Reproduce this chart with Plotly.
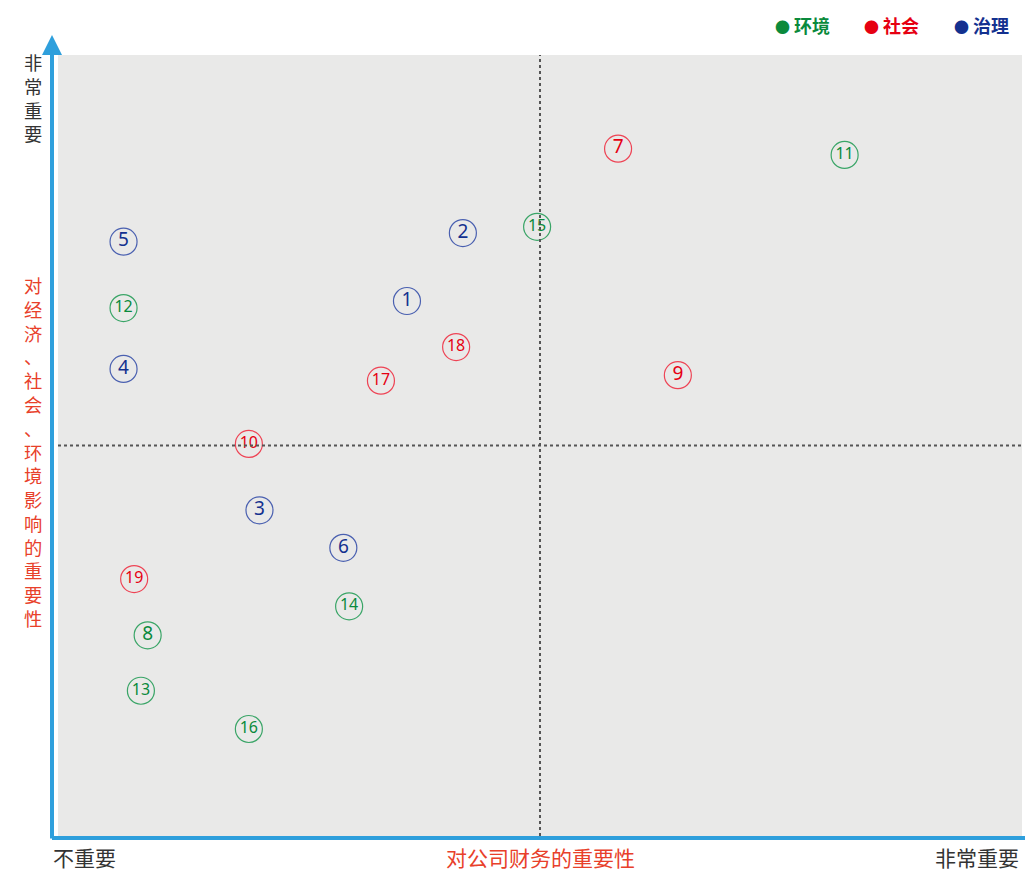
import plotly.graph_objects as go

# Data (0-10 scale, midpoint 5)
ids = list(range(1, 20))
x_fin = [3.62, 4.20, 2.09, 0.68, 0.68, 2.96, 5.81, 0.93, 6.43, 1.98,
         8.16, 0.68, 0.86, 3.02, 4.97, 1.98, 3.35, 4.13, 0.79]
y_imp = [6.85, 7.72, 4.17, 5.98, 7.61, 3.69, 8.80, 2.57, 5.90, 5.02,
         8.72, 6.76, 1.86, 2.94, 7.80, 1.37, 5.83, 6.26, 3.29]
cat = ["治理", "治理", "治理", "治理", "治理", "治理", "社会", "环境", "社会", "社会",
       "环境", "环境", "环境", "环境", "环境", "环境", "社会", "社会", "社会"]
categories = ["环境", "社会", "治理"]
y_top_label = "非常重要"
y_title = "对经济、社会、环境影响的重要性"
x_left_label = "不重要"
x_title = "对公司财务的重要性"
x_right_label = "非常重要"

cat_color = {"环境": "#0a8a3c", "社会": "#e60012", "治理": "#13318f"}
ring_color = {"环境": "#3aa567", "社会": "#ee4455", "治理": "#4a60b0"}

FONT = "Noto Sans CJK SC"
L, T, W, H = 58, 55, 964, 781  # plot area in pixels


def px_x(p):
    return (p - L) / W


def px_y(p):
    return (T + H - p) / H


fig = go.Figure()
for c in categories:
    xs = [x for x, k in zip(x_fin, cat) if k == c]
    ys = [y for y, k in zip(y_imp, cat) if k == c]
    ts = [str(i) for i, k in zip(ids, cat) if k == c]
    sizes = [19 if len(t) == 1 else 16 for t in ts]
    fig.add_trace(go.Scatter(
        x=xs, y=ys, mode="markers+text", text=ts,
        textposition="middle center",
        textfont=dict(family="Liberation Sans Narrow, Noto Sans", size=sizes,
                      color=cat_color[c]),
        marker=dict(symbol="circle-open", size=27,
                    line=dict(width=1.2, color=ring_color[c]),
                    color=ring_color[c]),
        hoverinfo="skip", showlegend=False, cliponaxis=False))

shapes = [
    dict(type="line", xref="x", yref="paper", x0=5, x1=5, y0=0, y1=1,
         line=dict(color="#555555", width=2, dash="dot")),
    dict(type="line", xref="paper", yref="y", x0=0, x1=1, y0=5, y1=5,
         line=dict(color="#555555", width=2, dash="dot")),
    # horizontal axis line
    dict(type="line", xref="paper", yref="paper", x0=px_x(52), x1=1.004,
         y0=px_y(838), y1=px_y(838), line=dict(color="#2e9fdc", width=4)),
]

VS = 18.3  # vertical text size (line pitch = 1.3 * size)
annotations = [
    # vertical axis with arrow
    dict(xref="paper", yref="paper", x=px_x(52), y=px_y(35), ax=0, ay=805,
         axref="pixel", ayref="pixel", text="", showarrow=True,
         arrowhead=2, arrowsize=1.0, arrowwidth=4, arrowcolor="#2e9fdc"),
    dict(xref="paper", yref="paper", x=px_x(33), y=px_y(47),
         xanchor="center", yanchor="top", text="<br>".join(y_top_label),
         showarrow=False,
         font=dict(family=FONT, size=VS, color="#333333")),
    dict(xref="paper", yref="paper", x=px_x(33), y=px_y(270),
         xanchor="center", yanchor="top", text="<br>".join(y_title),
         showarrow=False,
         font=dict(family=FONT, size=VS, color="#e8402a")),
    dict(xref="paper", yref="paper", x=px_x(51), y=px_y(857), xanchor="left",
         yanchor="middle", text=x_left_label, showarrow=False,
         font=dict(family=FONT, size=21, color="#333333")),
    dict(xref="x", yref="paper", x=5, y=px_y(857), xanchor="center",
         yanchor="middle", text=x_title, showarrow=False,
         font=dict(family=FONT, size=21, color="#e8402a")),
    dict(xref="paper", yref="paper", x=px_x(1021), y=px_y(857),
         xanchor="right", yanchor="middle", text=x_right_label,
         showarrow=False,
         font=dict(family=FONT, size=21, color="#333333")),
]

# legend as annotations
leg_x = [773, 862, 952]
for c, px in zip(categories, leg_x):
    annotations.append(dict(
        xref="paper", yref="paper", x=px_x(px), y=px_y(25),
        xanchor="left", yanchor="middle",
        text=f"<span style='font-size:15px'>●</span> <b>{c}</b>",
        showarrow=False,
        font=dict(family=FONT, size=18, color=cat_color[c])))

fig.update_layout(
    width=1025, height=872,
    margin=dict(l=L, r=1025 - L - W, t=T, b=872 - T - H),
    plot_bgcolor="#e9e9e8", paper_bgcolor="white",
    xaxis=dict(range=[0, 10], showgrid=False, zeroline=False,
               showticklabels=False, ticks=""),
    yaxis=dict(range=[0, 10], showgrid=False, zeroline=False,
               showticklabels=False, ticks=""),
    shapes=shapes, annotations=annotations,
    font=dict(family=FONT),
)

fig.write_html("out.html", config={"displayModeBar": False},
               post_script="document.body.style.margin='0';"
                           "document.body.style.overflow='hidden';")
